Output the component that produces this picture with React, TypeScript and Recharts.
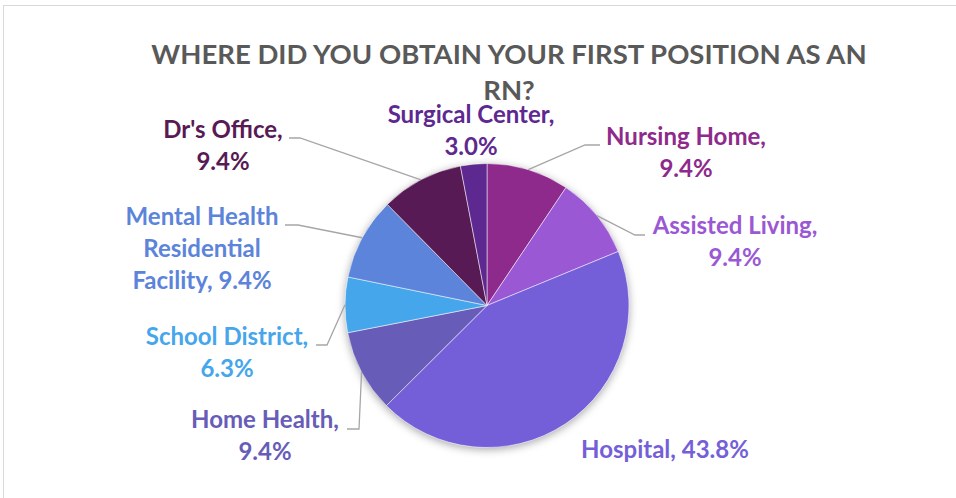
import React from 'react'
import { PieChart, Pie, Cell } from 'recharts'

const categories = [
  'Nursing Home',
  'Assisted Living',
  'Hospital',
  'Home Health',
  'School District',
  'Mental Health Residential Facility',
  "Dr's Office",
  'Surgical Center',
]
const shares = [9.4, 9.4, 43.8, 9.4, 6.3, 9.4, 9.4, 3.0]
const colors = ['#8E2A8C', '#9B58D4', '#755FD9', '#675DB8', '#46A6EC', '#5B84DA', '#581A54', '#5E2891']
const labelLines = [
  ['Nursing Home,', '9.4%'],
  ['Assisted Living,', '9.4%'],
  ['Hospital, 43.8%'],
  ['Home Health,', '9.4%'],
  ['School District,', '6.3%'],
  ['Mental Health', 'Residential', 'Facility, 9.4%'],
  ["Dr's Office,", '9.4%'],
  ['Surgical Center,', '3.0%'],
]

const data = categories.map((name, i) => ({ name, value: shares[i] }))

// where each label sits (centre x, first baseline) and where its leader line bends
const labelPos = [
  { x: 686, y: 145, elbow: [585, 145], end: 600 },
  { x: 735, y: 234, elbow: [635, 235], end: 645 },
  { x: 665, y: 458 },
  { x: 265, y: 428, elbow: [359, 429], end: 347 },
  { x: 227, y: 345, elbow: [327, 345], end: 316 },
  { x: 202, y: 225, elbow: [298, 225], end: 285 },
  { x: 223, y: 138, elbow: [300, 138], end: 289 },
  { x: 471, y: 123 },
]

const RADIAN = Math.PI / 180
const FONT = 'Lato, "Open Sans", sans-serif'

function renderLabel(props: any) {
  const { cx, cy, midAngle, outerRadius, index } = props
  const pos = labelPos[index]
  const px = cx + outerRadius * Math.cos(-midAngle * RADIAN)
  const py = cy + outerRadius * Math.sin(-midAngle * RADIAN)
  return (
    <g key={'lbl' + index}>
      {pos.elbow && (
        <polyline
          points={`${px},${py} ${pos.elbow[0]},${pos.elbow[1]} ${pos.end},${pos.elbow[1]}`}
          fill="none"
          stroke="#A6A6A6"
          strokeWidth={1.3}
        />
      )}
      <text
        x={pos.x}
        y={pos.y}
        textAnchor="middle"
        fill={colors[index]}
        fontFamily={FONT}
        fontWeight={700}
        fontSize={24}
      >
        {labelLines[index].map((ln, j) => (
          <tspan key={j} x={pos.x} dy={j === 0 ? 0 : 32}>
            {ln}
          </tspan>
        ))}
      </text>
    </g>
  )
}

const titleStyle: React.CSSProperties = {
  position: 'absolute',
  left: 109,
  width: 800,
  textAlign: 'center',
  fontFamily: FONT,
  fontWeight: 700,
  fontSize: 27.5,
  lineHeight: '16px',
  color: '#595959',
}

export default function App() {
  return (
    <div style={{ position: 'absolute', left: 0, top: 0, width: 956, height: 498, background: '#fff', overflow: 'hidden' }}>
      <div
        style={{
          position: 'absolute',
          left: 3,
          top: 5,
          width: 980,
          height: 520,
          border: '1px solid #D9D9D9',
        }}
      />
      <div style={{ ...titleStyle, top: 46 }}>WHERE DID YOU OBTAIN YOUR FIRST POSITION AS AN</div>
      <div style={{ ...titleStyle, top: 82 }}>RN?</div>
      <div style={{ position: 'absolute', left: 0, top: 0 }}>
        <PieChart width={956} height={498} margin={{ top: 0, right: 0, bottom: 0, left: 0 }}>
          <Pie
            data={[{ value: 1 }]}
            dataKey="value"
            cx={487}
            cy={305.5}
            outerRadius={142}
            fill="#ffffff"
            stroke="none"
            style={{ filter: 'drop-shadow(0px 2px 4px rgba(0,0,0,0.35))' }}
            isAnimationActive={false}
          />
          <Pie
            data={data}
            dataKey="value"
            nameKey="name"
            cx={487}
            cy={305.5}
            outerRadius={142}
            startAngle={90}
            endAngle={-270}
            stroke="#ffffff"
            strokeWidth={0.5}
            label={renderLabel}
            labelLine={false}
            isAnimationActive={false}
          >
            {data.map((d, i) => (
              <Cell key={d.name} fill={colors[i]} />
            ))}
          </Pie>
        </PieChart>
      </div>
    </div>
  )
}
